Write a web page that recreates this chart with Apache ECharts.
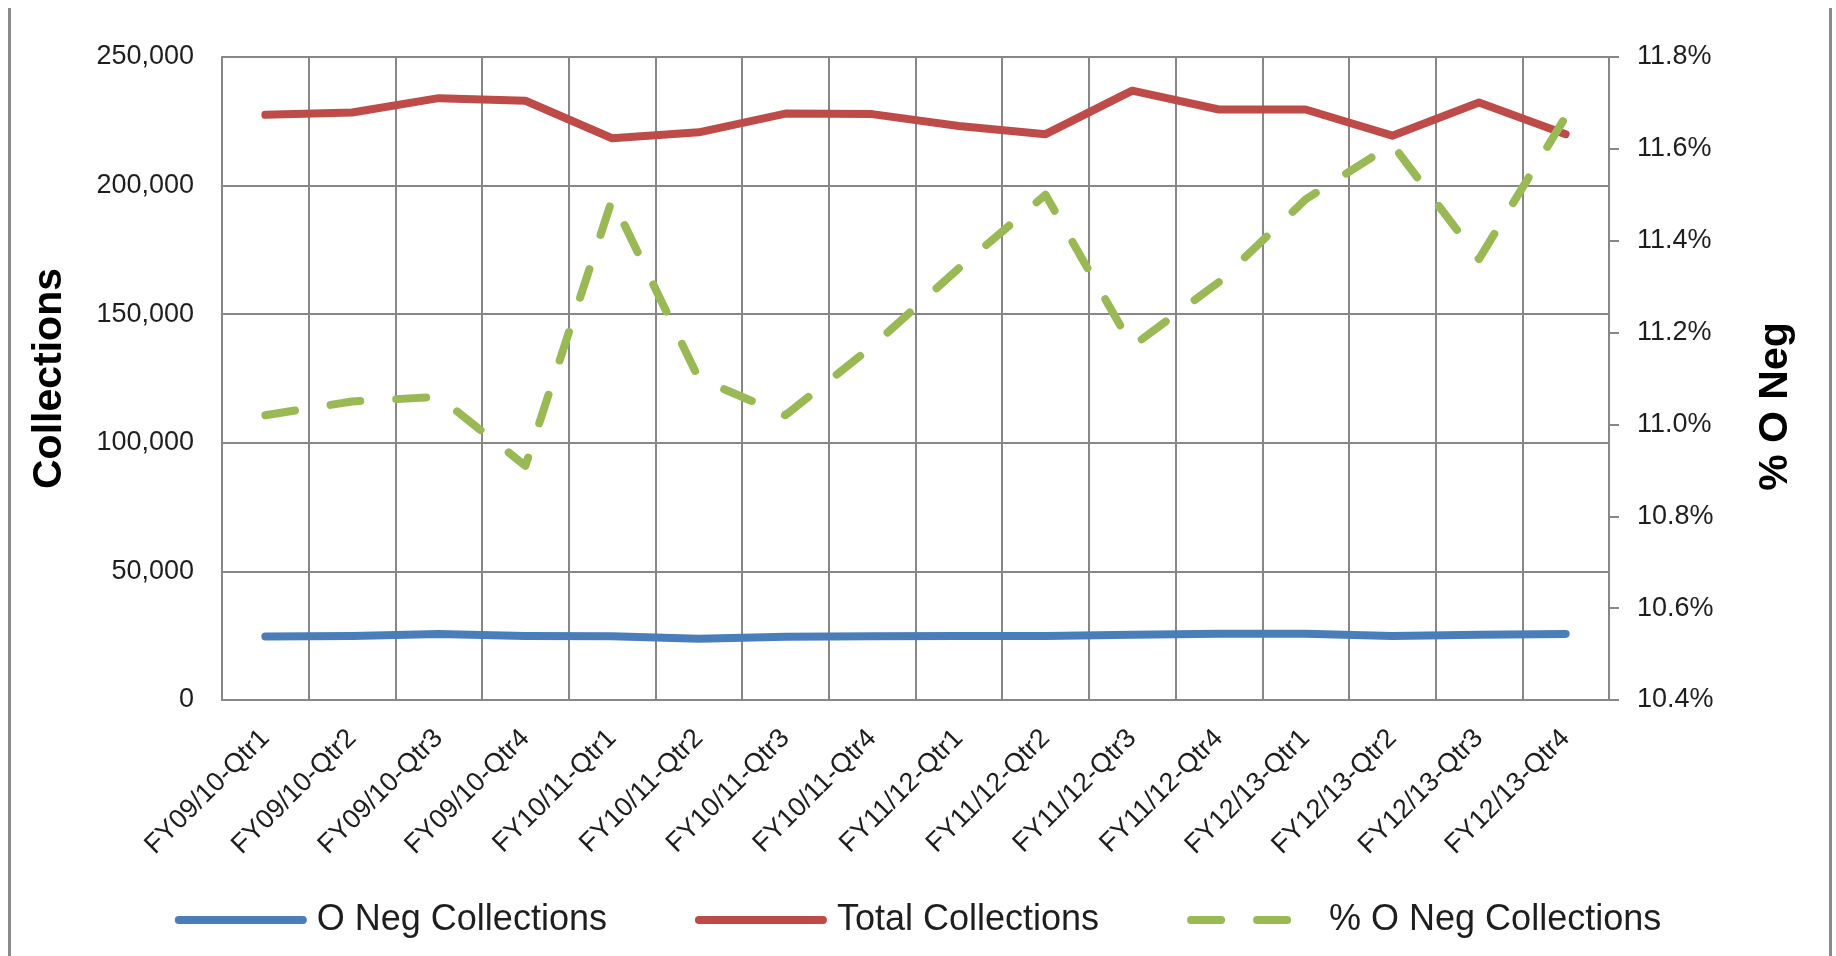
<!DOCTYPE html>
<html><head><meta charset="utf-8">
<script src="https://cdn.jsdelivr.net/npm/echarts@6/dist/echarts.min.js"></script>
<style>html,body{margin:0;padding:0;background:#fff}#c{width:1836px;height:956px}</style>
</head><body><div id="c"></div>
<script>
const categories = ['FY09/10-Qtr1','FY09/10-Qtr2','FY09/10-Qtr3','FY09/10-Qtr4',
  'FY10/11-Qtr1','FY10/11-Qtr2','FY10/11-Qtr3','FY10/11-Qtr4',
  'FY11/12-Qtr1','FY11/12-Qtr2','FY11/12-Qtr3','FY11/12-Qtr4',
  'FY12/13-Qtr1','FY12/13-Qtr2','FY12/13-Qtr3','FY12/13-Qtr4'];
const oNegCollections = [24700, 24900, 25700, 24900, 24800, 23800, 24600, 24800,
  24900, 24900, 25400, 25800, 25800, 24900, 25400, 25700];
const totalCollections = [227500, 228400, 234000, 233000, 218400, 220700, 228000, 227800,
  223200, 220000, 236900, 229600, 229600, 219400, 232300, 220000];
const pctONegCollections = [11.02, 11.05, 11.06, 10.91, 11.49, 11.10, 11.02, 11.17,
  11.34, 11.50, 11.17, 11.31, 11.49, 11.61, 11.36, 11.67];
const seriesNames = ['O Neg Collections', 'Total Collections', '% O Neg Collections'];
const leftAxisTicks = [0, 50000, 100000, 150000, 200000, 250000];
const rightAxisTicks = [10.4, 10.6, 10.8, 11.0, 11.2, 11.4, 11.6, 11.8];
const leftAxisTitle = 'Collections';
const rightAxisTitle = '% O Neg';

const FONT = '"Liberation Sans", Arial, sans-serif';
const GRID = '#878787';
const TXT = '#1e1e1e';

const chart = echarts.init(document.getElementById('c'), null, {renderer: 'canvas'});
chart.setOption({
  animation: false,
  backgroundColor: '#fff',
  textStyle: {fontFamily: FONT},
  graphic: [
    {type: 'rect', left: 8, top: 8, shape: {width: 3, height: 948}, style: {fill: '#8a8a8a'}},
    {type: 'rect', left: 1829, top: 8, shape: {width: 3, height: 948}, style: {fill: '#8a8a8a'}}
  ],
  grid: {left: 222, right: 227, top: 57, bottom: 256, containLabel: false},
  legend: {
    data: seriesNames,
    top: 897, left: 'center',
    itemWidth: 124, itemHeight: 16, itemGap: 88,
    itemStyle: {opacity: 0},
    lineStyle: {width: 8, cap: 'round'},
    textStyle: {fontSize: 36, color: TXT, fontFamily: FONT, padding: [0, 0, 0, 9]}
  },
  xAxis: {
    type: 'category', data: categories, boundaryGap: true,
    axisLine: {show: true, lineStyle: {color: GRID, width: 2}},
    axisTick: {show: false},
    axisLabel: {interval: 0, rotate: 45, fontSize: 27, color: TXT, margin: 34,
      fontFamily: FONT},
    splitLine: {show: true, interval: 0, lineStyle: {color: GRID, width: 2}}
  },
  yAxis: [
    {
      type: 'value', position: 'left',
      min: leftAxisTicks[0], max: leftAxisTicks[leftAxisTicks.length - 1],
      interval: leftAxisTicks[1] - leftAxisTicks[0],
      axisLine: {show: true, lineStyle: {color: GRID, width: 2}},
      axisTick: {show: false},
      axisLabel: {fontSize: 27, color: TXT, margin: 28, fontFamily: FONT,
        formatter: v => v.toLocaleString('en-US')},
      splitLine: {show: true, lineStyle: {color: GRID, width: 2}},
      name: leftAxisTitle, nameLocation: 'middle', nameGap: 152,
      nameTextStyle: {fontSize: 41, fontWeight: 'bold', color: '#000', fontFamily: FONT}
    },
    {
      type: 'value', position: 'right',
      min: rightAxisTicks[0], max: rightAxisTicks[rightAxisTicks.length - 1],
      interval: 0.2,
      axisLine: {show: true, lineStyle: {color: GRID, width: 2}},
      axisTick: {show: true, length: 10, lineStyle: {color: GRID, width: 2}},
      axisLabel: {fontSize: 27, color: TXT, margin: 28, fontFamily: FONT,
        formatter: v => v.toFixed(1) + '%'},
      splitLine: {show: false},
      name: rightAxisTitle, nameLocation: 'middle', nameRotate: 90, nameGap: 146,
      nameTextStyle: {fontSize: 41, fontWeight: 'bold', color: '#000', fontFamily: FONT,
        padding: [0, 56, 0, 0]}
    }
  ],
  series: [
    {name: seriesNames[0], type: 'line', data: oNegCollections, yAxisIndex: 0,
      symbol: 'none', color: '#4a7ebb',
      lineStyle: {width: 8, color: '#4a7ebb', cap: 'round', join: 'round'}},
    {name: seriesNames[1], type: 'line', data: totalCollections, yAxisIndex: 0,
      symbol: 'none', color: '#be4b48',
      lineStyle: {width: 8, color: '#be4b48', cap: 'round', join: 'round'}},
    {name: seriesNames[2], type: 'line', data: pctONegCollections, yAxisIndex: 1,
      symbol: 'none', color: '#98b954',
      lineStyle: {width: 8, color: '#98b954', type: [30, 36], cap: 'round', join: 'round'}}
  ]
});
</script></body></html>
